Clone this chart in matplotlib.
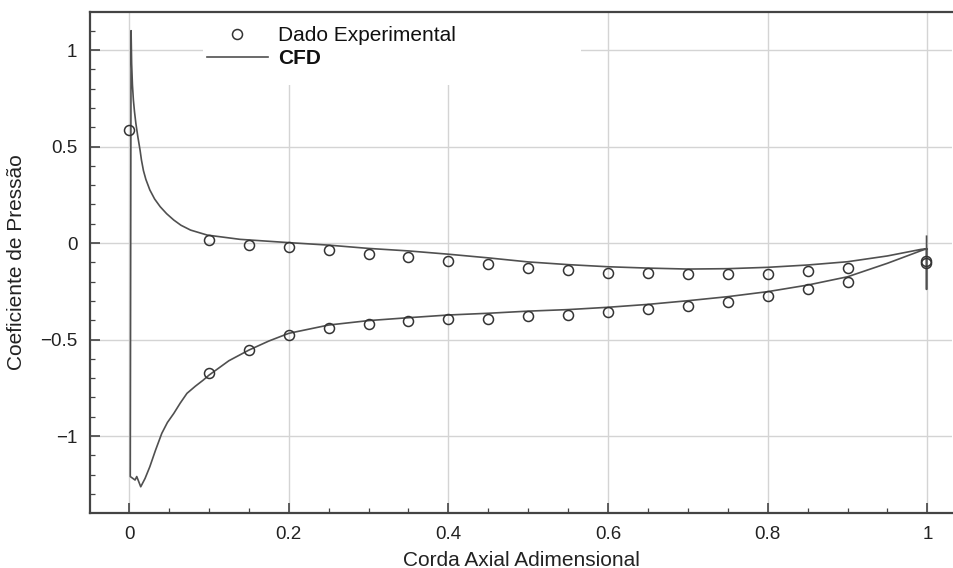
import numpy as np
import matplotlib
matplotlib.use("Agg")
import matplotlib.pyplot as plt
from matplotlib.patches import Rectangle
from matplotlib.ticker import MultipleLocator

plt.rcParams['font.family'] = ['Liberation Sans', 'DejaVu Sans']

# experimental points (upper and lower surface)
x_exp_up = [0.0, 0.1, 0.15, 0.2, 0.25, 0.3, 0.35, 0.4, 0.45, 0.5, 0.55, 0.6,
            0.65, 0.7, 0.75, 0.8, 0.85, 0.9, 0.998]
cp_exp_up = [0.585, 0.015, -0.008, -0.022, -0.036, -0.057, -0.074, -0.092, -0.11,
             -0.128, -0.14, -0.154, -0.157, -0.161, -0.16, -0.16, -0.143, -0.131, -0.095]
x_exp_low = [0.1, 0.15, 0.2, 0.25, 0.3, 0.35, 0.4, 0.45, 0.5, 0.55, 0.6, 0.65,
             0.7, 0.75, 0.8, 0.85, 0.9, 0.998]
cp_exp_low = [-0.672, -0.554, -0.477, -0.442, -0.42, -0.404, -0.396, -0.396, -0.378,
              -0.373, -0.356, -0.344, -0.326, -0.306, -0.275, -0.24, -0.2, -0.105]

# CFD curve: trailing edge -> upper surface -> leading edge -> lower surface -> trailing edge
x_cfd = [0.999, 0.999, 0.999, 0.992, 0.95, 0.9, 0.85, 0.8, 0.75, 0.7, 0.65, 0.6,
         0.55, 0.5, 0.45, 0.4, 0.35, 0.3, 0.25, 0.2, 0.139, 0.098, 0.077, 0.065,
         0.056, 0.047, 0.039, 0.032, 0.026, 0.021, 0.018, 0.0155, 0.0138, 0.011,
         0.0085, 0.0068, 0.0054, 0.0042, 0.0032, 0.0025, 0.0015, 0.0075, 0.0096,
         0.0146, 0.02, 0.026, 0.033, 0.041, 0.048, 0.056, 0.064, 0.0725, 0.083,
         0.093, 0.1, 0.125, 0.15, 0.175, 0.2, 0.25, 0.3, 0.35, 0.4, 0.45, 0.5,
         0.55, 0.6, 0.65, 0.7, 0.75, 0.8, 0.85, 0.9, 0.95, 0.992, 0.999]
cp_cfd = [0.035, -0.24, -0.03, -0.033, -0.067, -0.097, -0.114, -0.126, -0.133,
          -0.135, -0.13, -0.123, -0.112, -0.098, -0.077, -0.058, -0.041, -0.028,
          -0.011, 0.002, 0.019, 0.041, 0.067, 0.092, 0.119, 0.152, 0.188, 0.228,
          0.275, 0.33, 0.375, 0.43, 0.48, 0.55, 0.62, 0.68, 0.741, 0.82, 0.93,
          1.10, -1.21, -1.228, -1.21, -1.263, -1.22, -1.159, -1.075, -0.986, -0.93,
          -0.883, -0.83, -0.779, -0.742, -0.71, -0.685, -0.61, -0.555, -0.508,
          -0.468, -0.425, -0.402, -0.387, -0.373, -0.364, -0.353, -0.345, -0.333,
          -0.318, -0.299, -0.278, -0.252, -0.218, -0.175, -0.105, -0.04, -0.03]

fig = plt.figure(figsize=(9.54, 5.68), dpi=100)
ax = fig.add_axes([0.0943, 0.0968, 0.9037, 0.8821])

ax.set_axisbelow(True)
ax.grid(True, which='major', color='#d4d4d4', linewidth=1.0)

# white patch behind the legend (hides grid there)
ax.add_patch(Rectangle((0.131, 0.854), 0.438, 0.146, transform=ax.transAxes,
                       facecolor='white', edgecolor='none', zorder=1))

ax.plot(x_exp_up + x_exp_low, cp_exp_up + cp_exp_low, linestyle='none', marker='o',
        markersize=7.2, markerfacecolor='none', markeredgecolor='#333333',
        markeredgewidth=1.1, label='Dado Experimental', zorder=3)
ax.plot(x_cfd, cp_cfd, color='#505050', linewidth=1.2, label='CFD', zorder=2)

ax.set_xlim(-0.049, 1.031)
ax.set_ylim(-1.399, 1.197)
ax.set_xticks([0, 0.2, 0.4, 0.6, 0.8, 1])
ax.set_xticklabels(['0', '0.2', '0.4', '0.6', '0.8', '1'])
ax.set_yticks([-1, -0.5, 0, 0.5, 1])
ax.set_yticklabels(['\u22121', '\u22120.5', '0', '0.5', '1'])
ax.xaxis.set_minor_locator(MultipleLocator(0.05))
ax.yaxis.set_minor_locator(MultipleLocator(0.1))
ax.tick_params(which='both', direction='in', colors='#444444', labelcolor='#222222',
               labelsize=13.5, top=False, right=False)
ax.tick_params(which='major', length=7, width=1.2, pad=9)
ax.tick_params(which='minor', length=3.5, width=0.9)

for s in ['left', 'bottom', 'top']:
    ax.spines[s].set_color('#444444')
    ax.spines[s].set_linewidth(1.6)
ax.spines['right'].set_visible(False)

ax.set_xlabel('Corda Axial Adimensional', fontsize=15, color='#222222', labelpad=6)
ax.set_ylabel('Coeficiente de Pressão', fontsize=15, color='#222222', labelpad=10)

leg = ax.legend(loc='upper left', bbox_to_anchor=(0.136, 0.972), frameon=False,
                fontsize=15, handlelength=2.9, handletextpad=0.5, labelspacing=0.2,
                borderpad=0, borderaxespad=0)
leg.get_texts()[1].set_fontweight('bold')
for t in leg.get_texts():
    t.set_color('#111111')

fig.savefig('out.png', dpi=100)
